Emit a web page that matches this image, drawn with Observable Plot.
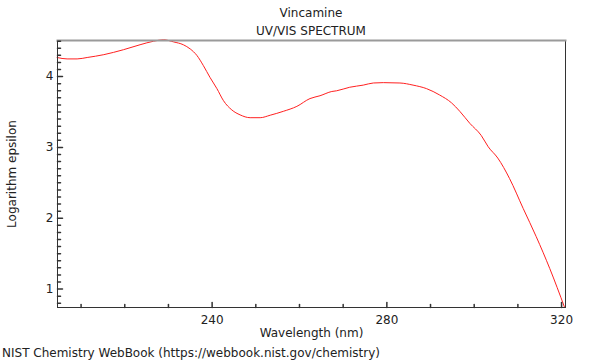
<!DOCTYPE html>
<html>
<head>
<meta charset="utf-8">
<script src="https://cdn.jsdelivr.net/npm/d3@7"></script>
<script src="https://cdn.jsdelivr.net/npm/@observablehq/plot@0.6"></script>
<style>
  html, body { margin: 0; padding: 0; background: #fff; }
  body { width: 600px; height: 360px; overflow: hidden; font-family: "DejaVu Sans", sans-serif; font-size: 12px; color: #222; }
  #title { box-sizing: border-box; height: 39px; padding: 4px 35px 0 57px; text-align: center; line-height: 18px; }
  #caption { height: 18px; line-height: 18px; padding-left: 2px; margin-top: 2px; }
  svg { display: block; }
</style>
</head>
<body>
<div id="title"><div>Vincamine</div><div>UV/VIS SPECTRUM</div></div>
<div id="chart"></div>
<div id="caption">NIST Chemistry WebBook (https://webbook.nist.gov/chemistry)</div>
<script>
const wavelength = [204.5, 206.8, 209.1, 211.4, 215.2, 219.7, 223.5, 226.6, 228.9, 231.2, 233.4, 235.0, 236.5, 238.0, 239.5, 241.1, 242.6, 244.5, 246.4, 248.7, 251.0, 253.3, 256.3, 259.4, 262.4, 264.7, 267.4, 268.5, 271.5, 274.6, 276.9, 279.2, 283.0, 286.0, 289.1, 292.1, 294.8, 296.7, 299.0, 301.6, 303.2, 305.4, 308.1, 311.2, 314.2, 317.3, 320.7];
const logEpsilon = [4.27, 4.25, 4.25, 4.27, 4.31, 4.38, 4.45, 4.50, 4.52, 4.49, 4.45, 4.39, 4.30, 4.155, 3.99, 3.83, 3.66, 3.53, 3.46, 3.42, 3.42, 3.455, 3.51, 3.58, 3.69, 3.73, 3.79, 3.80, 3.85, 3.88, 3.91, 3.915, 3.91, 3.88, 3.83, 3.74, 3.63, 3.51, 3.34, 3.17, 3.01, 2.85, 2.56, 2.14, 1.74, 1.29, 0.74];
const xMajorTicks = [240, 280, 320];
const xMinorTicks = [210, 220, 230, 250, 260, 270, 290, 300, 310];
const yMajorTicks = [1, 2, 3, 4];
const yMinorTicks = [0.8, 0.9, 1.1, 1.2, 1.3, 1.4, 1.5, 1.6, 1.7, 1.8, 1.9, 2.1, 2.2, 2.3, 2.4, 2.5, 2.6, 2.7, 2.8, 2.9, 3.1, 3.2, 3.3, 3.4, 3.5, 3.6, 3.7, 3.8, 3.9, 4.1, 4.2, 4.3, 4.4, 4.5];

const data = wavelength.map((w, i) => ({w, e: logEpsilon[i]}));

// a plain line segment shape for inward ticks
const tickShape = {draw(context, l) { context.moveTo(0, 0); context.lineTo(0, -l); }};

const chart = Plot.plot({
  width: 600,
  height: 303,
  marginTop: 1,
  marginBottom: 35,
  marginLeft: 57,
  marginRight: 35,
  style: {fontFamily: "DejaVu Sans", fontSize: "12px", color: "#222", background: "#fff"},
  x: {domain: [204.6, 320.9]},
  y: {domain: [0.74, 4.51]},
  marks: [
    Plot.line(data, {x: "w", y: "e", stroke: "#ff2020", strokeWidth: 1, curve: "monotone-x"}),
    Plot.frame({stroke: "#333"}),
    Plot.frame({anchor: "top", stroke: "#9a9a9a", strokeWidth: 2}),
    Plot.vector(xMajorTicks, {x: d => d, frameAnchor: "bottom", length: 5, anchor: "start", rotate: 0, shape: tickShape, stroke: "#333"}),
    Plot.vector(xMinorTicks, {x: d => d, frameAnchor: "bottom", length: 3, anchor: "start", rotate: 0, shape: tickShape, stroke: "#333"}),
    Plot.vector(yMajorTicks, {y: d => d, frameAnchor: "left", length: 5, anchor: "start", rotate: 90, shape: tickShape, stroke: "#333"}),
    Plot.vector(yMinorTicks, {y: d => d, frameAnchor: "left", length: 3, anchor: "start", rotate: 90, shape: tickShape, stroke: "#333"}),
    Plot.axisX(xMajorTicks, {anchor: "bottom", tickSize: 0, tickPadding: 8, tickFormat: d => String(d), fontSize: 12, label: "Wavelength (nm)", labelAnchor: "center", labelOffset: 29, labelArrow: "none"}),
    Plot.axisY(yMajorTicks, {anchor: "left", tickSize: 0, tickPadding: 4, tickFormat: d => String(d), fontSize: 12, label: "Logarithm epsilon", labelAnchor: "center", labelOffset: 50, labelArrow: "none"})
  ]
});
document.getElementById("chart").appendChild(chart);
</script>
</body>
</html>
